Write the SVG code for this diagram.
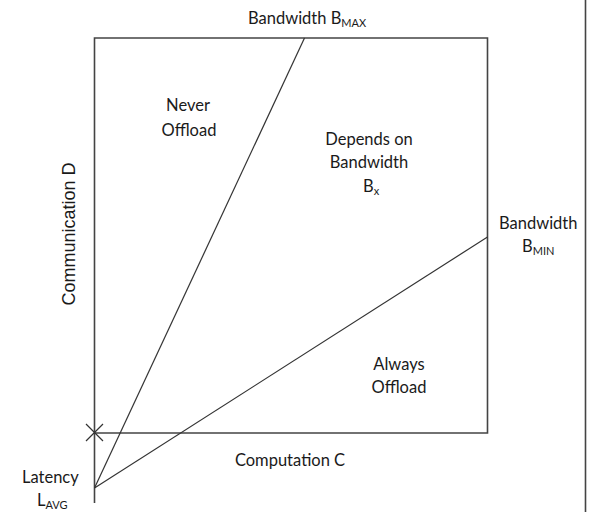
<svg xmlns="http://www.w3.org/2000/svg" width="589" height="515" viewBox="0 0 589 515">
<style>
.t{font-family:Lato,"Open Sans",sans-serif;font-size:16.5px;fill:#1a1a1a}
.s{font-size:11px}
.ln{stroke:#333;stroke-width:1.2;fill:none}
.ax{stroke:#444;stroke-width:1.6;fill:none}
</style>
<rect width="589" height="515" fill="#fff"/>
<g id="connectors">
<path class="ax" d="M94.5 38 H487.5 V433 H94.5 Z"/>
<path class="ax" d="M94.5 433 V503"/>
<path class="ln" d="M94.5 488 L304.5 38"/>
<path class="ln" d="M94.5 488 L487.5 237"/>
<path class="ln" d="M86 424 L103 441 M103 424 L86 441"/>
<path class="ax" d="M585.5 0 V512"/>
</g>
<g id="bmax"><text class="t" x="248" y="24">Bandwidth B<tspan class="s" dy="3">MAX</tspan></text></g>
<g id="never"><text class="t" text-anchor="middle" x="188" y="111">Never</text><text class="t" text-anchor="middle" x="189" y="136">Offload</text></g>
<g id="depends"><text class="t" text-anchor="middle" x="369" y="145">Depends on</text><text class="t" text-anchor="middle" x="369" y="168">Bandwidth</text><text class="t" x="363" y="192">B<tspan class="s" dy="3">x</tspan></text></g>
<g id="bmin"><text class="t" x="499" y="229">Bandwidth</text><text class="t" x="522" y="252">B<tspan class="s" dy="3">MIN</tspan></text></g>
<g id="always"><text class="t" text-anchor="middle" x="399" y="370">Always</text><text class="t" text-anchor="middle" x="399" y="393">Offload</text></g>
<g id="comp"><text class="t" text-anchor="middle" x="290" y="466">Computation C</text></g>
<g id="lat"><text class="t" x="22" y="483">Latency</text><text class="t" x="37" y="506">L<tspan class="s" dy="3">AVG</tspan></text></g>
<g id="comm"><text class="t" text-anchor="middle" transform="translate(75 234) rotate(-90)" style="font-family:'Liberation Sans',Arial,sans-serif;font-size:18px">Communication D</text></g>
</svg>
